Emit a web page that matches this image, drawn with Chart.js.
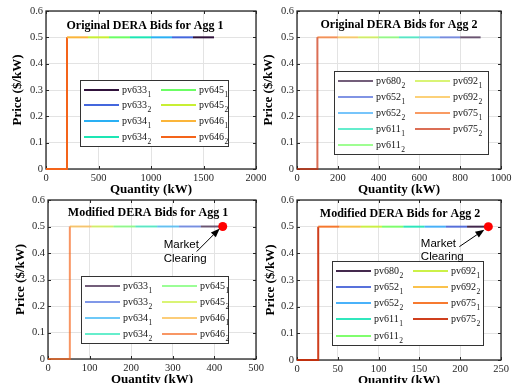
<!DOCTYPE html>
<html><head><meta charset="utf-8">
<script src="https://cdn.jsdelivr.net/npm/chart.js@4.4.1/dist/chart.umd.min.js"></script>
<style>
html,body{margin:0;padding:0;background:#fff;width:513px;height:383px;overflow:hidden}
#wrap{position:relative;width:513px;height:383px}
canvas{position:absolute;left:0;top:0}
</style></head><body><div id="wrap">
<canvas id="c1" width="513" height="383"></canvas>
<canvas id="c2" width="513" height="383"></canvas>
<canvas id="c3" width="513" height="383"></canvas>
<canvas id="c4" width="513" height="383"></canvas>
</div>
<script>
// ---------- data ----------
const bidPrice = 0.5;
const agg1Names = ['pv633','pv633','pv634','pv634','pv645','pv645','pv646','pv646'];
const agg1Subs  = [1,2,1,2,1,2,1,2];
const agg2Names = ['pv680','pv652','pv652','pv611','pv611','pv692','pv692','pv675','pv675'];
const agg2Subs  = [2,1,2,1,2,1,2,1,2];
// cumulative quantity break points (kW); first break = step location
const origAgg1Breaks = [200,400,600,800,1000,1200,1400,1600];
const origAgg2Breaks = [100,200,300,400,500,600,700,800,900];
const modAgg1Breaks  = [52.5,105,157.5,210,262.5,315,367.5,420];
const modAgg2Breaks  = [26,52.1,78.2,104.2,130.3,156.3,182.4,208.4,234.5];
const clearingAgg1 = [420, 0.5];
const clearingAgg2 = [234.5, 0.5];
const priceTicks = [0,0.1,0.2,0.3,0.4,0.5,0.6];

// ---------- styles ----------
const paletteAgg1 = ['#30123b','#4467dd','#2ab0f4','#1de6b4','#6bfe64','#c8ef34','#fbb53a','#f4641a'];
const paletteAgg2 = ['#30123b','#4662d7','#36aaf9','#1ae4b6','#72fe5e','#c7ef34','#fabb39','#f66b19','#ca2a04'];
const W = 513, H = 383;
const SERIF = "'Liberation Serif','Times New Roman',serif";
const SANS = "'Liberation Sans',Arial,sans-serif";
const AXIS = '#262626', GRID = '#e3e3e3';

function rgba(hex, a){
  const n = parseInt(hex.slice(1),16);
  return `rgba(${(n>>16)&255},${(n>>8)&255},${n&255},${a})`;
}

const panels = [
  {id:'c1', area:{l:46,t:11,r:256,b:169}, xMax:2000, xStep:500, breaks:origAgg1Breaks,
   names:agg1Names, subs:agg1Subs, palette:paletteAgg1, alpha:1,
   title:'Original DERA Bids for Agg 1', titleDx:-6, titleDy:15,
   legend:{x:80,y:80,w:148,h:66}, priceX:18, clearing:null},
  {id:'c2', area:{l:297,t:11,r:501,b:169}, xMax:1000, xStep:200, breaks:origAgg2Breaks,
   names:agg2Names, subs:agg2Subs, palette:paletteAgg2, alpha:0.68,
   title:'Original DERA Bids for Agg 2', titleDx:0, titleDy:14,
   legend:{x:334,y:71,w:154,h:83}, priceX:269, clearing:null},
  {id:'c3', area:{l:48,t:200,r:256,b:359}, xMax:500, xStep:100, breaks:modAgg1Breaks,
   names:agg1Names, subs:agg1Subs, palette:paletteAgg1, alpha:0.68,
   title:'Modified DERA Bids for Agg 1', titleDx:-4, titleDy:13,
   legend:{x:81,y:276,w:147,h:67}, priceX:20.5, clearing:clearingAgg1,
   note:{tail:[-26,25], tip:[-3,2], tx:-59, ty1:18, ty2:32}},
  {id:'c4', area:{l:297,t:200,r:501,b:360}, xMax:250, xStep:50, breaks:modAgg2Breaks,
   names:agg2Names, subs:agg2Subs, palette:paletteAgg2, alpha:0.9,
   title:'Modified DERA Bids for Agg 2', titleDx:1, titleDy:14,
   legend:{x:332,y:261,w:151,h:84}, priceX:271, clearing:clearingAgg2,
   note:{tail:[-29,20], tip:[-4,3], tx:-67.5, ty1:17, ty2:30.5}}
];

function buildDatasets(p){
  const n = p.names.length, b = p.breaks, ds = [];
  for (let i = 0; i < n; i++){
    const k = n - 1 - i;
    const pts = k === 0
      ? [{x:0,y:0},{x:b[0],y:0},{x:b[0],y:bidPrice}]
      : [{x:b[k-1],y:bidPrice},{x:b[k],y:bidPrice}];
    ds.push({data:pts, borderColor:rgba(p.palette[i],p.alpha), borderWidth:2,
      pointRadius:0, tension:0, fill:false, clip:4});
  }
  if (p.clearing){
    ds.unshift({data:[{x:p.clearing[0],y:p.clearing[1]}], showLine:false,
      pointRadius:4.5, pointBackgroundColor:'#ff0000', pointBorderColor:'#ff0000',
      borderColor:'#ff0000', pointBorderWidth:0, clip:false});
  }
  return ds;
}

function line(ctx,x1,y1,x2,y2){ctx.beginPath();ctx.moveTo(x1,y1);ctx.lineTo(x2,y2);ctx.stroke();}

function makePlugin(p){
  return {
    id:'deco_'+p.id,
    beforeDatasetsDraw(chart){
      const {ctx, chartArea:a, scales:{x,y}} = chart;
      ctx.save();
      ctx.strokeStyle = AXIS; ctx.lineWidth = 1;
      x.ticks.forEach(t=>{const px=Math.round(x.getPixelForValue(t.value))+0.5;
        line(ctx,px,a.bottom,px,a.bottom-3); line(ctx,px,a.top,px,a.top+3);});
      y.ticks.forEach(t=>{const py=Math.round(y.getPixelForValue(t.value))+0.5;
        line(ctx,a.left,py,a.left+3,py); line(ctx,a.right,py,a.right-3,py);});
      ctx.lineWidth = 1.3;
      ctx.strokeRect(a.left, a.top, a.right-a.left, a.bottom-a.top);
      ctx.restore();
    },
    afterDatasetsDraw(chart){
      const {ctx, chartArea:a, scales:{x,y}} = chart;
      ctx.save();
      // title
      ctx.fillStyle = '#000'; ctx.textAlign='center'; ctx.textBaseline='middle';
      ctx.font = `bold 12px ${SERIF}`;
      ctx.fillText(p.title, (a.left+a.right)/2 + p.titleDx, a.top + p.titleDy);
      // axis titles
      ctx.font = `bold 13px ${SERIF}`;
      ctx.fillText('Quantity (kW)', (a.left+a.right)/2, a.bottom + 21);
      ctx.save(); ctx.translate(p.priceX, (a.top+a.bottom)/2); ctx.rotate(-Math.PI/2);
      ctx.fillText('Price ($/kW)', 0, 0); ctx.restore();
      // legend
      const L = p.legend, n = p.names.length, rows = Math.ceil(n/2);
      ctx.fillStyle = '#fff'; ctx.fillRect(L.x, L.y, L.w, L.h);
      ctx.strokeStyle = '#333'; ctx.lineWidth = 1;
      ctx.strokeRect(L.x+0.5, L.y+0.5, L.w, L.h);
      const step = (L.h - 19)/(rows-1);
      for (let i=0;i<n;i++){
        const col = i < rows ? 0 : 1, row = i < rows ? i : i - rows;
        const lx = L.x + 4 + col*77, ly = Math.round(L.y + 9.5 + row*step);
        ctx.strokeStyle = rgba(p.palette[i], p.alpha); ctx.lineWidth = 2;
        line(ctx, lx, ly, lx+35, ly);
        ctx.fillStyle = '#111'; ctx.textAlign='left'; ctx.textBaseline='middle';
        ctx.font = `10px ${SERIF}`;
        ctx.fillText(p.names[i], lx+38, ly);
        const w = ctx.measureText(p.names[i]).width;
        ctx.font = `7.5px ${SERIF}`;
        ctx.fillText(String(p.subs[i]), lx+38+w+0.5, ly+5);
      }
      // market clearing note
      if (p.clearing){
        const px = x.getPixelForValue(p.clearing[0]), py = y.getPixelForValue(p.clearing[1]);
        const N = p.note;
        const tx = px+N.tail[0], ty = py+N.tail[1], hx = px+N.tip[0], hy = py+N.tip[1];
        ctx.strokeStyle = '#000'; ctx.fillStyle = '#000'; ctx.lineWidth = 1;
        const ang = Math.atan2(hy-ty, hx-tx), hl = 9, hw = 3.5;
        const bx = hx - hl*Math.cos(ang), by = hy - hl*Math.sin(ang);
        line(ctx, tx, ty, bx, by);
        ctx.beginPath(); ctx.moveTo(hx,hy);
        ctx.lineTo(bx + hw*Math.sin(ang), by - hw*Math.cos(ang));
        ctx.lineTo(bx - hw*Math.sin(ang), by + hw*Math.cos(ang));
        ctx.closePath(); ctx.fill();
        ctx.font = `11.5px ${SANS}`; ctx.textAlign='left'; ctx.textBaseline='middle';
        ctx.fillText('Market', px+N.tx, py+N.ty1);
        ctx.fillText('Clearing', px+N.tx, py+N.ty2);
      }
      ctx.restore();
    }
  };
}

panels.forEach(p=>{
  const a = p.area, yW = 30, xH = 20;
  new Chart(document.getElementById(p.id), {
    type:'line',
    data:{datasets:buildDatasets(p)},
    options:{
      responsive:false, animation:false, events:[],
      layout:{padding:{left:a.l-yW, top:a.t, right:W-a.r, bottom:H-a.b-xH}},
      plugins:{legend:{display:false}, tooltip:{enabled:false}, title:{display:false}},
      scales:{
        x:{type:'linear', min:0, max:p.xMax,
           ticks:{stepSize:p.xStep, color:'#262626', padding:3, maxRotation:0, autoSkip:false,
                  font:{family:SERIF, size:10.5}, callback:v=>String(v)},
           grid:{color:GRID, drawTicks:false}, border:{display:false},
           afterFit:s=>{s.height=xH; s.paddingLeft=0; s.paddingRight=0; s.paddingTop=0; s.paddingBottom=0;}},
        y:{type:'linear', min:0, max:0.6,
           afterBuildTicks:s=>{s.ticks = priceTicks.map(v=>({value:v}));},
           ticks:{color:'#262626', padding:3, font:{family:SERIF, size:10.5},
                  callback:v=> v===0 ? '0' : Number(v).toFixed(1)},
           grid:{color:GRID, drawTicks:false}, border:{display:false},
           afterFit:s=>{s.width=yW; s.paddingLeft=0; s.paddingRight=0; s.paddingTop=0; s.paddingBottom=0;}}
      }
    },
    plugins:[makePlugin(p)]
  });
});
</script>
</body></html>
